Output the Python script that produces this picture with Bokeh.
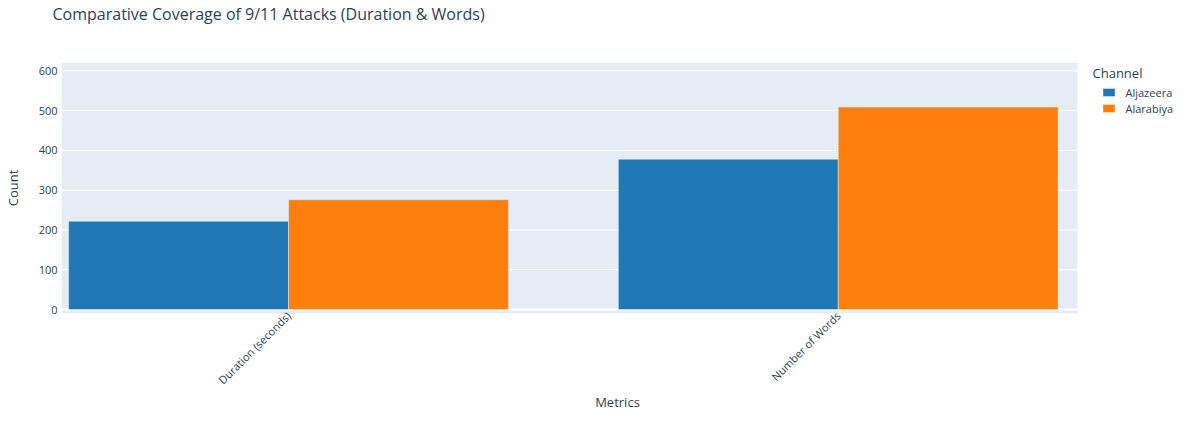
import numpy as np
from bokeh.plotting import figure
from bokeh.models import (Range1d, FixedTicker, Legend, LegendItem, Label, BoxAnnotation,
                          ColumnDataSource, Title)
from bokeh.transform import dodge
from bokeh.embed import file_html
from bokeh.resources import INLINE

# ---- data ----
title_text = "Comparative Coverage of 9/11 Attacks (Duration & Words)"
metrics = ["Duration (seconds)", "Number of Words"]
channels = ["Aljazeera", "Alarabiya"]
aljazeera = [222, 378]
alarabiya = [276, 509]
y_ticks = [0, 100, 200, 300, 400, 500, 600]
colors = ["#1f77b4", "#ff7f0e"]

FONT = "Open Sans"
TXT = "#2a3f5f"
BG = "#E5ECF6"

W, H = 1173, 407
FH = 251                          # expected frame height (px)
FWA = 1112                        # expected frame width (px)
PX_PER_CAT = 549.7                # px per category step
x0 = -0.4130                      # left end of the x range
x1 = x0 + FWA / PX_PER_CAT        # right end of the frame (legend area)
xa = x0 + 1016 / PX_PER_CAT       # right end of the plotting area
y0, y1 = -10, 621

def dx(px):  # frame px from left -> data x
    return x0 + px / PX_PER_CAT

def dy(py):  # frame px from top -> data y
    return y1 - py / FH * (y1 - y0)

p = figure(width=W, height=H, output_backend="svg", toolbar_location=None,
           x_range=Range1d(x0, x1), y_range=Range1d(y0, y1),
           min_border_left=0, min_border_right=0,
           min_border_top=0, min_border_bottom=0)
p.background_fill_color = "white"
p.border_fill_color = "white"
p.outline_line_color = None

# title (outermost) + spacer between title and plot
p.title.text = title_text
p.title.text_font = FONT
p.title.text_font_size = "16px"
p.title.text_font_style = "normal"
p.title.text_color = TXT
p.title.align = "left"
p.title.vertical_align = "top"
p.title.offset = -9
p.title.standoff = 4
p.add_layout(Title(text=" ", text_font=FONT, text_font_size="16px", standoff=10), "above")

# plotting-area background
p.add_layout(BoxAnnotation(left=x0, right=xa, bottom=y0, top=y1, fill_color=BG, fill_alpha=1,
                           line_color=None, level="underlay"))

src = ColumnDataSource(dict(idx=list(range(len(metrics))), aljazeera=aljazeera, alarabiya=alarabiya))
grid_src = ColumnDataSource(dict(y=y_ticks))

# gridlines (limited to the plotting area) and zero line
p.segment(x0=x0, x1=xa, y0="y", y1="y", source=grid_src, line_color="white", line_width=1)
p.segment(x0=x0, x1=xa, y0=0, y1=0, line_color="white", line_width=2)

r1 = p.vbar(x=dodge("idx", -0.2, range=p.x_range), top="aljazeera", bottom=0, width=0.4, source=src,
            fill_color=colors[0], line_color=BG, line_width=0.5)
r2 = p.vbar(x=dodge("idx", 0.2, range=p.x_range), top="alarabiya", bottom=0, width=0.4, source=src,
            fill_color=colors[1], line_color=BG, line_width=0.5)

p.xgrid.visible = False
p.ygrid.visible = False

# axes
for ax in (p.xaxis, p.yaxis):
    ax.axis_line_color = None
    ax.major_tick_line_color = None
    ax.minor_tick_line_color = None
    ax.major_tick_out = 0
    ax.major_tick_in = 0
    ax.major_label_text_font = FONT
    ax.major_label_text_font_size = "11px"
    ax.major_label_text_color = TXT
    ax.axis_label_text_font = FONT
    ax.axis_label_text_font_size = "13px"
    ax.axis_label_text_color = TXT
    ax.axis_label_text_font_style = "normal"

p.yaxis.ticker = FixedTicker(ticks=y_ticks)
p.yaxis.major_label_standoff = 4
p.yaxis.axis_label = "Count"
p.yaxis.axis_label_standoff = 14

p.xaxis.ticker = FixedTicker(ticks=list(range(len(metrics))))
p.xaxis.major_label_overrides = {i: m for i, m in enumerate(metrics)}
p.xaxis.major_label_orientation = np.pi / 4
p.xaxis.major_label_standoff = 0

# x-axis title placed below the tick labels
p.add_layout(Title(text="Metrics", text_font=FONT, text_font_size="13px", text_font_style="normal",
                   text_color=TXT, align="center", vertical_align="middle", standoff=-8), "below")

# legend
p.add_layout(Label(x=dx(1031), y=dy(10), text="Channel", text_font=FONT, text_font_size="13px",
                   text_color=TXT, text_align="left", text_baseline="middle"))
legend = Legend(items=[LegendItem(label=channels[0], renderers=[r1]),
                       LegendItem(label=channels[1], renderers=[r2])],
                location=(1039.5, FH - 53.5), orientation="vertical",
                glyph_width=15, glyph_height=10, label_height=10, spacing=1,
                label_standoff=10, padding=0, margin=0,
                border_line_color=None, background_fill_alpha=0,
                label_text_font=FONT, label_text_font_size="11px", label_text_color=TXT)
p.add_layout(legend)

open("out.html", "w").write(file_html(p, INLINE))
